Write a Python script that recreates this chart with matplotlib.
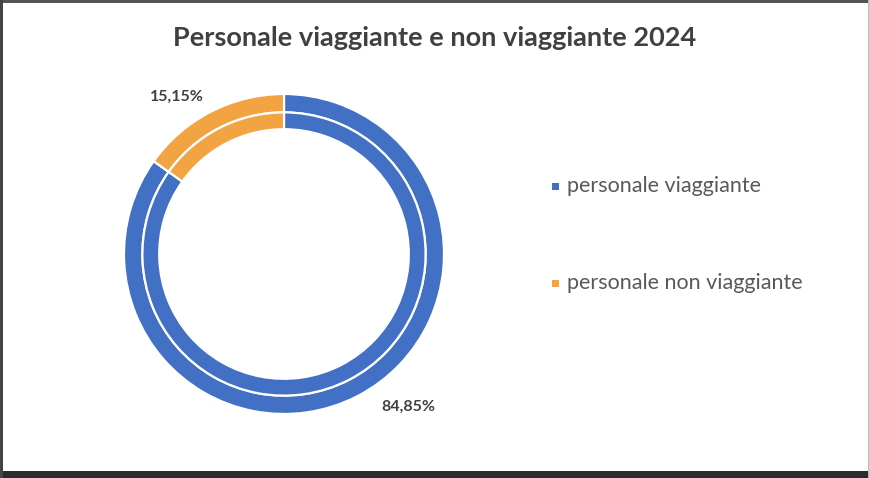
import matplotlib
matplotlib.use("Agg")
import matplotlib.pyplot as plt
from matplotlib.patches import Rectangle

title = "Personale viaggiante e non viaggiante 2024"
categories = ["personale viaggiante", "personale non viaggiante"]
values = [84.85, 15.15]
colors = ["#4170C4", "#F2A443"]

W, H = 870, 478
fig = plt.figure(figsize=(W / 100, H / 100), dpi=100)
fig.patch.set_facecolor("white")

plt.rcParams["font.family"] = ["Lato", "DejaVu Sans"]

# frame around the chart
fig.add_artist(Rectangle((0, 0), 1, 7 / H, transform=fig.transFigure,
                         facecolor="#2b2b2b", edgecolor="none"))
fig.add_artist(Rectangle((0, 1 - 3 / H), 1, 3 / H, transform=fig.transFigure,
                         facecolor="#555555", edgecolor="none"))
fig.add_artist(Rectangle((0, 0), 3 / W, 1, transform=fig.transFigure,
                         facecolor="#444444", edgecolor="none"))
fig.add_artist(Rectangle((1 - 2 / W, 0), 2 / W, 1, transform=fig.transFigure,
                         facecolor="#b8b8b8", edgecolor="none"))

# doughnut axes
cx, cy, R = 284, 478 - 254, 160
ax = fig.add_axes([(cx - R) / W, (cy - R) / H, 2 * R / W, 2 * R / H])
ax.set_aspect("equal")

wp = dict(edgecolor="white", linewidth=1.6)
ax.pie(values, radius=1.0, colors=colors, startangle=90, counterclock=False,
       wedgeprops=dict(width=0.115, **wp))
ax.pie(values, radius=0.885, colors=colors, startangle=90, counterclock=False,
       wedgeprops=dict(width=0.105, **wp))
ax.set_xlim(-1, 1)
ax.set_ylim(-1, 1)
ax.axis("off")

fmt = lambda v: f"{v:.2f}%".replace(".", ",")
label_pos = [(0.775, -0.955), (-0.670, 0.985)]
for v, (lx, ly) in zip(values, label_pos):
    ax.text(lx, ly, fmt(v), ha="center", va="center", fontsize=11.5,
            fontweight="bold", color="#404040", clip_on=False)

fig.text(0.5, 1 - 38 / H, title, ha="center", va="center", fontsize=19.5,
         fontweight="bold", color="#404040")

# legend entries
leg_y = [186, 283]
for name, col, y in zip(categories, colors, leg_y):
    fig.add_artist(Rectangle((552 / W, (H - y - 3.5) / H), 7 / W, 7 / H,
                             transform=fig.transFigure, facecolor=col,
                             edgecolor="none"))
    fig.text(567 / W, 1 - y / H, name, ha="left", va="center", fontsize=15.5,
             color="#595959")

fig.savefig("out.png", dpi=100, facecolor=fig.get_facecolor())
